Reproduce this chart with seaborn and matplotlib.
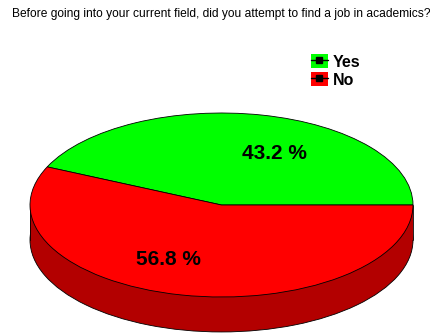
import matplotlib
matplotlib.use('Agg')
import matplotlib.pyplot as plt
from matplotlib.patches import Patch, Rectangle
from matplotlib.lines import Line2D
from matplotlib.legend_handler import HandlerTuple
import seaborn as sns

title = 'Before going into your current field, did you attempt to find a job in academics?'
labels = ['Yes', 'No']
shares = [43.2, 56.8]
colors = ['#00ff00', '#ff0000']
side_color = '#b30000'

sns.set_style('white')
plt.rcParams['font.family'] = ['Liberation Sans', 'DejaVu Sans']
plt.rcParams['text.color'] = 'black'

fig = plt.figure(figsize=(4.31, 3.33), dpi=100)
ax = fig.add_axes([0, 0, 1, 1])

# thickness of the "3d" disc, in pie units (ellipse half height = 1)
depth = 0.38

# bottom disc + side band
ax.pie([sum(shares)], colors=[side_color], center=(0, -depth), startangle=0,
       wedgeprops=dict(edgecolor='black', linewidth=0.6))
ax.add_patch(Rectangle((-1, -depth), 2, depth, facecolor=side_color,
                       edgecolor='none', zorder=2))
ax.plot([-1, -1], [-depth, 0], color='black', lw=0.6, zorder=3)
ax.plot([1, 1], [-depth, 0], color='black', lw=0.6, zorder=3)

# top face
wedges, _ = ax.pie(shares, colors=colors, startangle=0, counterclock=True,
                   wedgeprops=dict(edgecolor='black', linewidth=0.6))
for w in wedges:
    w.set_zorder(4)

# squash the circle into an ellipse
ax.set_aspect('auto')
ax.set_xlim(-221.5 / 191.5, 209.5 / 191.5)
ax.set_ylim(-128 / 92, 205 / 92)
ax.axis('off')

ax.text(0.279, 0.56, f'{shares[0]:.1f} %', ha='center', va='center',
        fontsize=15, fontweight='bold', zorder=5)
ax.text(-0.277, -0.59, f'{shares[1]:.1f} %', ha='center', va='center',
        fontsize=15, fontweight='bold', zorder=5)

fig.text(221.5 / 431, 1 - 14 / 333, title, ha='center', va='center', fontsize=8.65)

handles = [(Patch(facecolor=c, edgecolor='none'),
            Line2D([], [], color='black', lw=1, marker='s', markersize=4))
           for c in colors]
fig.legend(handles, labels, loc='upper left', bbox_to_anchor=(311 / 431, 1 - 54 / 333),
           frameon=False, handler_map={tuple: HandlerTuple(ndivide=1, pad=0)},
           prop=dict(weight='bold', size=11.5), handlelength=1.05, handleheight=1.0,
           handletextpad=0.3, labelspacing=0.15, borderpad=0, borderaxespad=0)

fig.savefig('out.png', dpi=100)
